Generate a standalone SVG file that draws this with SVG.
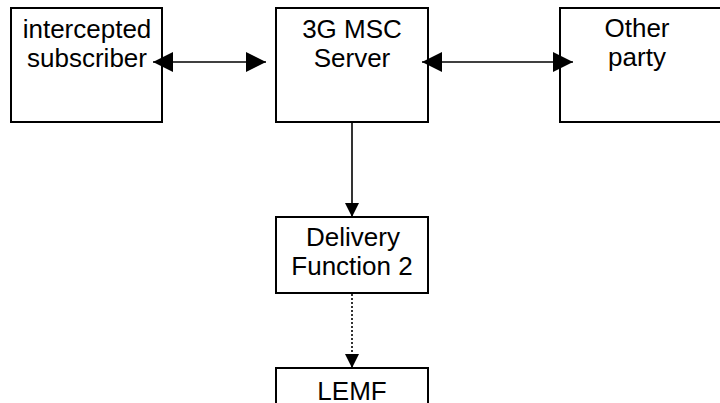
<svg xmlns="http://www.w3.org/2000/svg" width="720" height="403" viewBox="0 0 720 403">
<style>
.box{fill:#fff;stroke:#000;stroke-width:2}
.t{font-family:"Liberation Sans",Arial,sans-serif;font-size:26px;fill:#000;text-anchor:middle}
.ln{stroke:#000;stroke-width:1.6;fill:none}
.dot{stroke:#000;stroke-width:1.6;fill:none;stroke-dasharray:2 2}
</style>
<defs>
<marker id="ah" viewBox="0 0 20 20" refX="20" refY="10" markerWidth="20" markerHeight="20" markerUnits="userSpaceOnUse" orient="auto-start-reverse">
<path d="M0,0 L20,10 L0,20 Z" fill="#000"/>
</marker>
<marker id="ahs" viewBox="0 0 14 14" refX="14" refY="7" markerWidth="14" markerHeight="14" markerUnits="userSpaceOnUse" orient="auto">
<path d="M0,0 L14,7 L0,14 Z" fill="#000"/>
</marker>
</defs>
<rect width="720" height="403" fill="#fff"/>
<g id="n-subscriber">
<rect class="box" x="11" y="8" width="151" height="114"/>
<text class="t" x="87" y="38">intercepted</text>
<text class="t" x="87" y="67">subscriber</text>
</g>
<g id="n-msc">
<rect class="box" x="276" y="8" width="152" height="114"/>
<text class="t" x="352" y="38">3G MSC</text>
<text class="t" x="352" y="67">Server</text>
</g>
<g id="n-other">
<rect class="box" x="560" y="8" width="170" height="114"/>
<text class="t" x="637" y="37">Other</text>
<text class="t" x="637" y="66">party</text>
</g>
<g id="n-df2">
<rect class="box" x="276" y="217" width="152" height="76"/>
<text class="t" x="353" y="246">Delivery</text>
<text class="t" x="352" y="275">Function 2</text>
</g>
<g id="n-lemf">
<rect class="box" x="276" y="368" width="152" height="60"/>
<text class="t" x="352" y="400">LEMF</text>
</g>
<g id="connectors">
<line class="ln" x1="153" y1="62" x2="266" y2="62" marker-start="url(#ah)" marker-end="url(#ah)"/>
<line class="ln" x1="422" y1="62" x2="573" y2="62" marker-start="url(#ah)" marker-end="url(#ah)"/>
<line class="ln" x1="352" y1="122" x2="352" y2="217" marker-end="url(#ahs)"/>
<line class="dot" x1="352" y1="294" x2="352" y2="368" marker-end="url(#ahs)"/>
</g>
</svg>
